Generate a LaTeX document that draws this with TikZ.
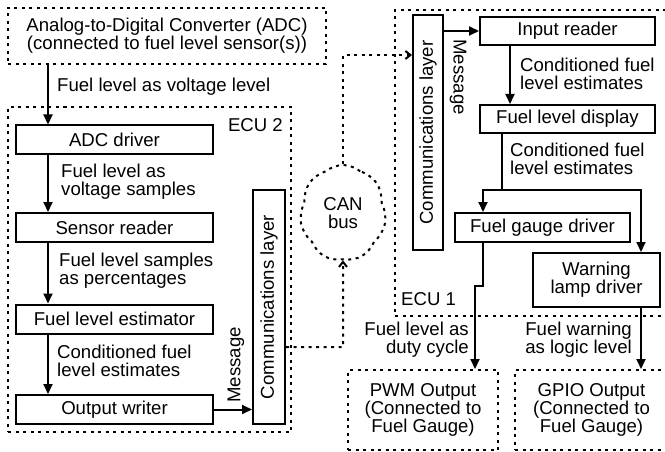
\documentclass[tikz,border=0pt]{standalone}
\usepackage{fontspec}
\setmainfont{Liberation Sans}
\usetikzlibrary{arrows.meta,positioning,shapes.symbols,calc}

\begin{document}
\begin{tikzpicture}[
    x=1pt, y=-1pt,
    every node/.style={font=\fontsize{18.6}{18}\selectfont, inner sep=0pt},
    block/.style={rectangle, draw, line width=2pt, minimum width=197pt, minimum height=29pt},
    zone/.style={rectangle, draw, line width=2pt, dash pattern=on 3pt off 4.5pt},
    layer/.style={rectangle, draw, line width=2pt, rotate=90},
    note/.style={align=left, anchor=west},
    flow/.style={line width=2pt, -{Triangle[length=10pt,width=9pt]}},
    bus/.style={line width=2pt, dash pattern=on 3pt off 4.5pt, -{Straight Barb[length=5pt,width=8pt]}}
]
\useasboundingbox (0,0) rectangle (665,452);

% Outer units
\node[zone, minimum width=318pt, minimum height=56pt, align=center] (adc) at (167,36)
    {Analog-to-Digital Converter (ADC)\\(connected to fuel level sensor(s))};
\node[zone, minimum width=283pt, minimum height=325pt] (ecu2) at (149.5,269.5) {};
\node[anchor=north east] (ecu2lbl) at (283,118) {ECU 2};
\node[zone, minimum width=275pt, minimum height=306pt] (ecu1) at (532.5,163) {};
\node[anchor=base west] (ecu1lbl) at (401,305) {ECU 1};
\node[zone, minimum width=150pt, minimum height=80pt, align=center] (pwm) at (423,410)
    {PWM Output\\(Connected to\\Fuel Gauge)};
\node[zone, minimum width=153pt, minimum height=80pt, align=center] (gpio) at (591.5,410)
    {GPIO Output\\(Connected to\\Fuel Gauge)};

% CAN bus
\node[cloud, cloud puffs=7, cloud puff arc=80, cloud ignores aspect, draw, line width=2pt,
      dash pattern=on 3pt off 4.5pt, minimum width=86pt, minimum height=96pt, align=center]
      (can) at (343,213) {CAN\\bus};

% ECU 2 blocks
\node[block] (adcdrv) at (114.5,140) {ADC driver};
\node[block] (sensor) at (114.5,227.5) {Sensor reader};
\node[block] (estim) at (114.5,319) {Fuel level estimator};
\node[block] (outw) at (114.5,409.5) {Output writer};
\node[layer, minimum width=234pt, minimum height=32pt] (comm2) at (269,307) {Communications layer};
\node[rotate=90] (msg2) at (236,365) {Message};

% ECU 1 blocks
\node[layer, minimum width=235pt, minimum height=30pt] (comm1) at (428,132.5) {Communications layer};
\node[rotate=-90] (msg1) at (458,77) {Message};
\node[block, minimum width=175pt, minimum height=28pt] (input) at (567.5,31) {Input reader};
\node[block, minimum width=175pt, minimum height=28pt] (display) at (567.5,119) {Fuel level display};
\node[block, minimum width=175pt] (gauge) at (542.5,227.5) {Fuel gauge driver};
\node[block, minimum width=127pt, minimum height=54pt, align=center] (lamp) at (596.5,280)
    {Warning\\lamp driver};

% Lanes
\coordinate (lane) at (48,0);
\coordinate (lanein) at (510,0);
\coordinate (fork) at (502,190);
\coordinate (lanegauge) at (483,0);
\coordinate (lanelamp) at (641,0);
\coordinate (lanepwm) at (475,0);
\coordinate (jog) at (483,286);
\coordinate (busin) at (343,347);
\coordinate (busout) at (343,55);

% ECU 2 flow
\draw[flow] (adc.south -| lane) -- (adcdrv.north -| lane);
\draw[flow] (adcdrv.south -| lane) -- (sensor.north -| lane);
\draw[flow] (sensor.south -| lane) -- (estim.north -| lane);
\draw[flow] (estim.south -| lane) -- (outw.north -| lane);
\draw[flow] (outw.east) -- (outw.east -| comm2.north);

\node[note] (l1) at (57,87) {Fuel level as voltage level};
\node[note] (l2) at (61,182) {Fuel level as\\voltage samples};
\node[note] (l3) at (59,271) {Fuel level samples\\as percentages};
\node[note] (l4) at (57,361) {Conditioned fuel\\level estimates};

% Bus
\draw[bus] (busin -| comm2.south) -- (busin) -- (can.south);
\draw[bus] (can.north) -- (busout) -- (busout -| comm1.north);

% ECU 1 flow
\draw[flow] (input.west -| comm1.south) -- (input.west);
\draw[flow] (input.south -| lanein) -- (display.north -| lanein);
\draw[line width=2pt] (display.south -| fork) -- (fork);
\draw[flow] (fork) -| (gauge.north -| lanegauge);
\draw[flow] (fork) -| (lamp.north -| lanelamp);
\draw[flow] (gauge.south -| lanegauge) -- (jog) -- (jog -| lanepwm) -- (pwm.north -| lanepwm);
\draw[flow] (lamp.south -| lanelamp) -- (gpio.north -| lanelamp);

\node[note] (r1) at (520,74) {Conditioned fuel\\level estimates};
\node[note] (r2) at (510,159) {Conditioned fuel\\level estimates};
\node[align=right, anchor=east] (r3) at (469,340) {Fuel level as\\duty cycle};
\node[align=right, anchor=east] (r4) at (632,340) {Fuel warning\\as logic level};
\end{tikzpicture}
\end{document}
